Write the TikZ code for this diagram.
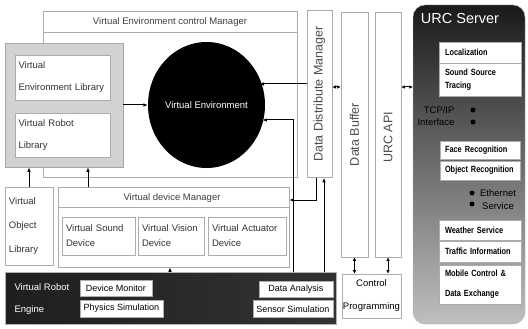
\documentclass[tikz,border=0pt]{standalone}
\usepackage{fontspec}
\setmainfont{Liberation Sans}
\newfontfamily\urcfont[FakeStretch=0.82]{Liberation Sans}
\usetikzlibrary{arrows.meta,shapes.geometric}
\hyphenpenalty=10000
\exhyphenpenalty=10000
\begin{document}
\begin{tikzpicture}[x=1pt,y=-1pt,
  bx/.style={draw=gray!65, line width=0.6pt, fill=white, inner sep=0pt, text=black!80},
  f/.style={font=\fontsize{9.5}{#1}\selectfont},
  uf/.style={font=\urcfont\bfseries\fontsize{9}{#1}\selectfont, text=black},
  vt/.style={rotate=90, font=\fontsize{12.5}{14}\selectfont, text=black!70},
  arr/.style={line width=1pt, -{Latex[length=4.5pt,width=3.6pt]}},
  darr/.style={line width=1pt, {Latex[length=3.5pt,width=3.6pt]}-{Latex[length=3.5pt,width=3.6pt]}},
  bullet/.style={circle, fill=black, inner sep=0pt, minimum size=5pt}
]
\fill[white] (0,0) rectangle (528,329);
\useasboundingbox (0,0) rectangle (528,329);

% Virtual Environment control Manager
\node[bx, fill=none, minimum width=254pt, minimum height=166pt] (vecm) at (170,94) {};
\node[f=11, text=black!75] (vecmt) at (170,22) {Virtual Environment control Manager};
\draw[draw=gray!65, line width=0.6pt] ([yshift=-22pt]vecm.north west) -- ([yshift=-22pt]vecm.north east);

% library group
\node[bx, fill=gray!35, draw=gray!70, minimum width=118pt, minimum height=124pt] (lib) at (64,105) {};
\node[bx, f=22, align=left, text width=88pt, inner xsep=3.5pt, minimum height=45pt] (velib) at (62.5,77.5) {Virtual\\Environment Library};
\node[bx, f=22, align=left, text width=88pt, inner xsep=3.5pt, minimum height=44pt] (vrlib) at (62.5,135) {Virtual Robot\\Library};

% Virtual Environment
\node[ellipse, fill=black, minimum width=89pt, minimum height=126pt, inner sep=0pt, text=white, f=11] (ve) at (206.5,105) {Virtual Environment};

% vertical boxes
\node[bx, minimum width=25pt, minimum height=167pt] (ddm) at (319.5,94) {};
\node[vt] (ddmt) at (ddm.center) {Data Distribute Manager};
\node[bx, minimum width=27pt, minimum height=245pt] (dbuf) at (354.5,134.5) {};
\node[vt] (dbuft) at (dbuf.center) {Data Buffer};
\node[bx, minimum width=26pt, minimum height=245pt] (urcapi) at (388,134.5) {};
\node[vt] (urcapit) at ([yshift=-3pt]urcapi.center) {URC API};

% URC Server
\node[draw=gray!60, rounded corners=12pt, minimum width=112pt, minimum height=319pt,
      top color=black!90, middle color=black!50, bottom color=black!25] (urc) at (469,164.5) {};
\node[text=white, font=\fontsize{14.5}{16}\selectfont] (urct) at (460,19) {URC Server};
\node[bx, uf=13, align=left, text width=70pt, inner xsep=6pt, minimum height=21pt] (loc) at (480,52.5) {Localization};
\node[bx, uf=13, align=left, text width=70pt, inner xsep=6pt, minimum height=33pt] (sst) at (480,79.5) {Sound Source\\Tracing};
\node[f=12, align=right, anchor=east, text=black] (tcp) at (458,116) {TCP/IP\\Interface};
\node[bullet] (b1) at (473,110) {};
\node[bullet] (b2) at (473,122) {};
\node[bx, uf=13, align=left, text width=70pt, inner xsep=5pt, minimum height=18pt] (face) at (480,150) {Face Recognition};
\node[bx, uf=13, align=left, text width=70pt, inner xsep=5pt, minimum height=19pt] (obj) at (480,170.5) {Object Recognition};
\node[bullet] (b3) at (472,193) {};
\node[bullet] (b4) at (472,204) {};
\node[f=13, align=center, text=black] (eth) at (498,200) {Ethernet\\Service};
\node[bx, uf=13, align=left, text width=70pt, inner xsep=6pt, minimum height=20pt] (weather) at (480,230) {Weather Service};
\node[bx, uf=13, align=left, text width=70pt, inner xsep=6pt, minimum height=21pt] (traffic) at (480,251.5) {Traffic Information};
\node[bx, uf=20, align=left, text width=70pt, inner xsep=6pt, minimum height=39pt] (mobile) at (480,284.5) {Mobile Control \&\\Data Exchange};

% Virtual Object Library
\node[bx, f=24, align=left, text width=40pt, inner xsep=4pt, minimum height=78pt] (vol) at (29,226) {Virtual\\Object\\Library};

% Virtual device Manager
\node[bx, minimum width=231pt, minimum height=80pt] (vdm) at (173.5,227) {};
\node[f=11, text=black!75] (vdmt) at (172,198) {Virtual device Manager};
\draw[draw=gray!65, line width=0.6pt] ([yshift=-21pt]vdm.north west) -- ([yshift=-21pt]vdm.north east);
\node[bx, f=15, align=left, text width=65pt, inner xsep=4pt, minimum height=38pt] (vsd) at (98.5,236) {Virtual Sound\\Device};
\node[bx, f=15, align=left, text width=58pt, inner xsep=4pt, minimum height=38pt] (vvd) at (171,236) {Virtual Vision\\Device};
\node[bx, f=15, align=left, text width=70pt, inner xsep=4pt, minimum height=38pt] (vad) at (247,236) {Virtual Actuator\\Device};

% Virtual Robot Engine
\node[draw=gray!60, minimum width=331pt, minimum height=52pt, inner sep=0pt,
      left color=black!88, middle color=black!62, right color=black!80] (vre) at (170.5,298) {};
\node[f=22, align=left, anchor=west, text=white] (vret) at (11,299) {Virtual Robot\\Engine};
\node[bx, font=\fontsize{9}{11}\selectfont, text=black, minimum width=72pt, minimum height=16pt] (devmon) at (116,288) {Device Monitor};
\node[bx, font=\fontsize{9}{11}\selectfont, text=black, minimum width=83pt, minimum height=17pt] (physim) at (121.5,308.5) {Physics Simulation};
\node[bx, font=\fontsize{9}{11}\selectfont, text=black, minimum width=74pt, minimum height=16pt] (dataan) at (296,289) {Data Analysis};
\node[bx, font=\fontsize{9}{11}\selectfont, text=black, minimum width=80pt, minimum height=17pt] (sensim) at (293,309) {Sensor Simulation};

% Control Programming
\node[bx, f=23, align=center, text=black, minimum width=59pt, minimum height=44pt] (ctrl) at (371.5,296) {Control\\Programming};

% connectors
\draw[arr] (lib.east) -- (ve.west);
\coordinate (p1) at ([yshift=10pt]ddm.west);
\draw[arr] (p1) -- (p1 -| ve.27);
\coordinate (p2) at (293,120);
\draw[arr] (vre.north -| p2) -- (p2) -- (p2 -| ve.-19);
\coordinate (p3) at (316,200);
\draw[arr] (ddm.south -| p3) -- (p3) -- (p3 -| vdm.east);
\coordinate (p4) at (324,230);
\draw[arr] (vre.north -| p4) -- (ddm.south -| p4);
\coordinate (p5) at ([yshift=7pt]ddm.east);
\draw[darr] (p5) -- (p5 -| dbuf.west);
\draw[darr] (p5 -| urcapi.east) -- (p5 -| urc.west);
\draw[darr] (dbuf.south) -- (dbuf.south |- ctrl.north);
\draw[darr] (urcapi.south) -- (urcapi.south |- ctrl.north);
\draw[arr] (vol.north) -- (vol.north |- lib.south);
\coordinate (p6) at (88,180);
\draw[arr] (vdm.north -| p6) -- (lib.south -| p6);
\coordinate (p7) at (170,270);
\draw[arr] (vre.north -| p7) -- (vdm.south -| p7);
\end{tikzpicture}
\end{document}
